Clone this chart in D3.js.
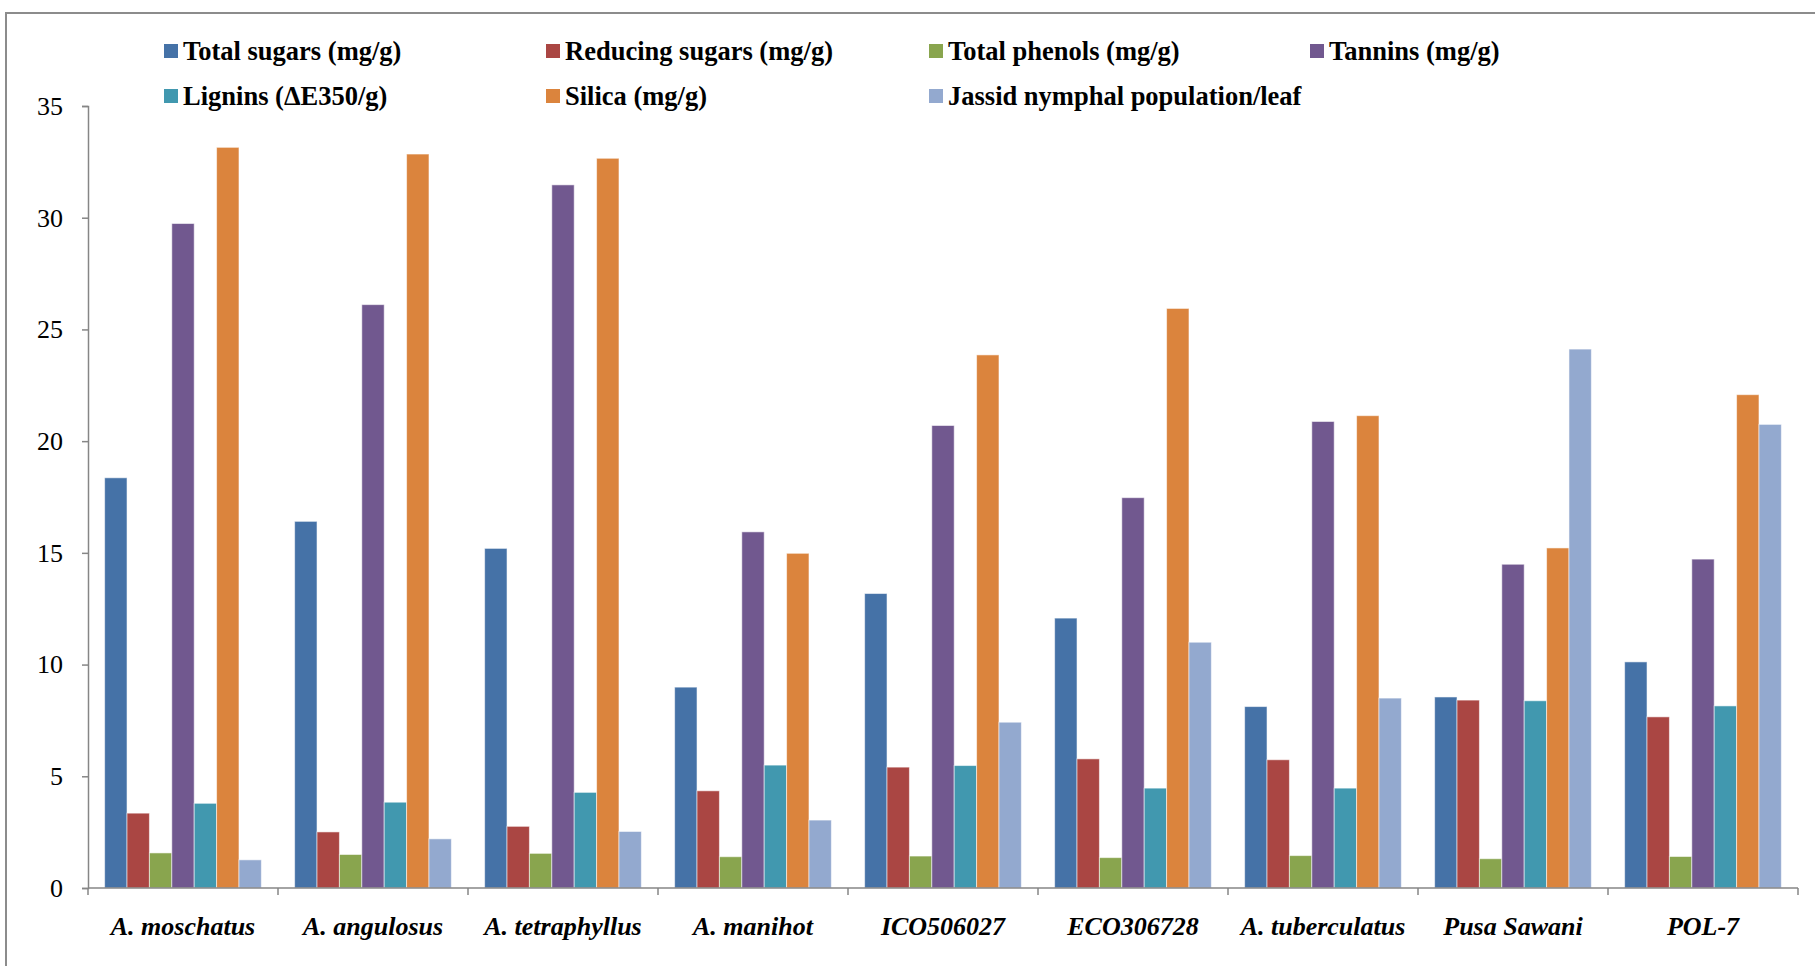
<!DOCTYPE html>
<html>
<head>
<meta charset="utf-8">
<script src="https://cdn.jsdelivr.net/npm/d3@7/dist/d3.min.js"></script>
<style>
  html, body { margin: 0; padding: 0; background: #fff; }
  svg { display: block; }
</style>
</head>
<body>
<svg id="chart" width="1815" height="966"></svg>
<script>
// ---- Data ----
const categories = ["A. moschatus", "A. angulosus", "A. tetraphyllus", "A. manihot", "ICO506027", "ECO306728", "A. tuberculatus", "Pusa Sawani", "POL-7"];
const seriesNames = ["Total sugars (mg/g)", "Reducing sugars (mg/g)", "Total phenols (mg/g)", "Tannins (mg/g)", "Lignins (\u0394E350/g)", "Silica (mg/g)", "Jassid nymphal population/leaf"];
const totalSugars    = [18.36, 16.41, 15.20, 8.99, 13.18, 12.08, 8.12, 8.55, 10.12];
const reducingSugars = [3.35, 2.51, 2.76, 4.35, 5.41, 5.78, 5.74, 8.41, 7.66];
const totalPhenols   = [1.57, 1.50, 1.55, 1.40, 1.43, 1.36, 1.45, 1.31, 1.41];
const tannins        = [29.74, 26.11, 31.47, 15.94, 20.70, 17.47, 20.88, 14.49, 14.72];
const lignins        = [3.79, 3.84, 4.28, 5.50, 5.48, 4.47, 4.47, 8.38, 8.15];
const silica         = [33.15, 32.85, 32.66, 14.98, 23.86, 25.94, 21.14, 15.22, 22.08];
const jassid         = [1.26, 2.20, 2.53, 3.04, 7.42, 11.00, 8.50, 24.12, 20.75];
const yTicks = [0, 5, 10, 15, 20, 25, 30, 35];
const colors = ["#4572A7", "#AA4643", "#89A54E", "#71588F", "#4198AF", "#DB843D", "#93A9CF"];

const seriesValues = [totalSugars, reducingSugars, totalPhenols, tannins, lignins, silica, jassid];

(function () {
// ---- Layout ----
const svg = d3.select("#chart");
const mLeft = 88, mRight = 1798, mTop = 106, mBottom = 888;
const axisColor = "#868686";
const serif = "'Liberation Serif', 'Times New Roman', Times, serif";

// frame
svg.append("path")
  .attr("d", `M6,966 L6,13 L1815,13`)
  .attr("fill", "none").attr("stroke", "#8c8c8c").attr("stroke-width", 2);

const x0 = d3.scaleBand().domain(categories).range([mLeft, mRight]).paddingInner(0.175).paddingOuter(0.0875);
const x1 = d3.scaleBand().domain(d3.range(seriesNames.length)).range([0, x0.bandwidth()]).padding(0);
const y = d3.scaleLinear().domain([0, 35]).range([mBottom, mTop]);

// bars
const groups = svg.append("g").selectAll("g").data(categories).join("g")
  .attr("transform", d => `translate(${x0(d)},0)`);
groups.selectAll("rect")
  .data((c, ci) => seriesValues.map((vals, si) => ({ si, v: vals[ci] })))
  .join("rect")
  .attr("x", d => x1(d.si))
  .attr("width", x1.bandwidth())
  .attr("y", d => y(d.v))
  .attr("height", d => y(0) - y(d.v))
  .attr("fill", d => colors[d.si])
  .attr("stroke", "rgba(255,255,255,0.55)")
  .attr("stroke-width", 1);

// y axis
const yAxis = svg.append("g").attr("transform", `translate(${mLeft},0)`)
  .attr("font-family", serif)
  .call(d3.axisLeft(y).tickValues(yTicks).tickSize(6).tickPadding(19));
yAxis.attr("font-family", serif);
yAxis.select(".domain").attr("stroke", axisColor).attr("stroke-width", 1.5);
yAxis.selectAll(".tick line").attr("stroke", axisColor).attr("stroke-width", 1.5);
yAxis.selectAll(".tick text")
  .attr("font-family", serif)
  .attr("font-size", 26).attr("fill", "#000");

// x axis: labels
const xAxis = svg.append("g").attr("transform", `translate(0,${mBottom})`)
  .call(d3.axisBottom(x0).tickSize(0).tickPadding(29));
xAxis.attr("font-family", serif);
xAxis.select(".domain").remove();
xAxis.selectAll(".tick text")
  .attr("font-family", serif)
  .attr("font-size", 26).attr("font-weight", "bold").attr("font-style", "italic").attr("fill", "#000");

// x axis line and boundary ticks
const boundaries = d3.range(categories.length + 1).map(i => x0.range()[0] + i * x0.step());
svg.append("line").attr("x1", mLeft).attr("x2", mRight).attr("y1", mBottom).attr("y2", mBottom)
  .attr("stroke", axisColor).attr("stroke-width", 1.5);
svg.append("g").selectAll("line").data(boundaries).join("line")
  .attr("x1", d => d).attr("x2", d => d).attr("y1", mBottom).attr("y2", mBottom + 7)
  .attr("stroke", axisColor).attr("stroke-width", 1.5);

// legend
const legendX = [164, 546, 929, 1310];
const legendY = [51, 96];
const legend = svg.append("g").selectAll("g").data(seriesNames).join("g")
  .attr("transform", (d, i) => `translate(${legendX[i % 4]},${legendY[Math.floor(i / 4)]})`);
legend.append("rect").attr("x", 0).attr("y", -7).attr("width", 14).attr("height", 14)
  .attr("fill", (d, i) => colors[i]);
legend.append("text").attr("x", 19).attr("y", 0).attr("dy", "0.35em")
  .attr("font-family", serif)
  .attr("font-size", 26.5).attr("font-weight", "bold").attr("fill", "#000")
  .text(d => d);
})();
</script>
</body>
</html>
